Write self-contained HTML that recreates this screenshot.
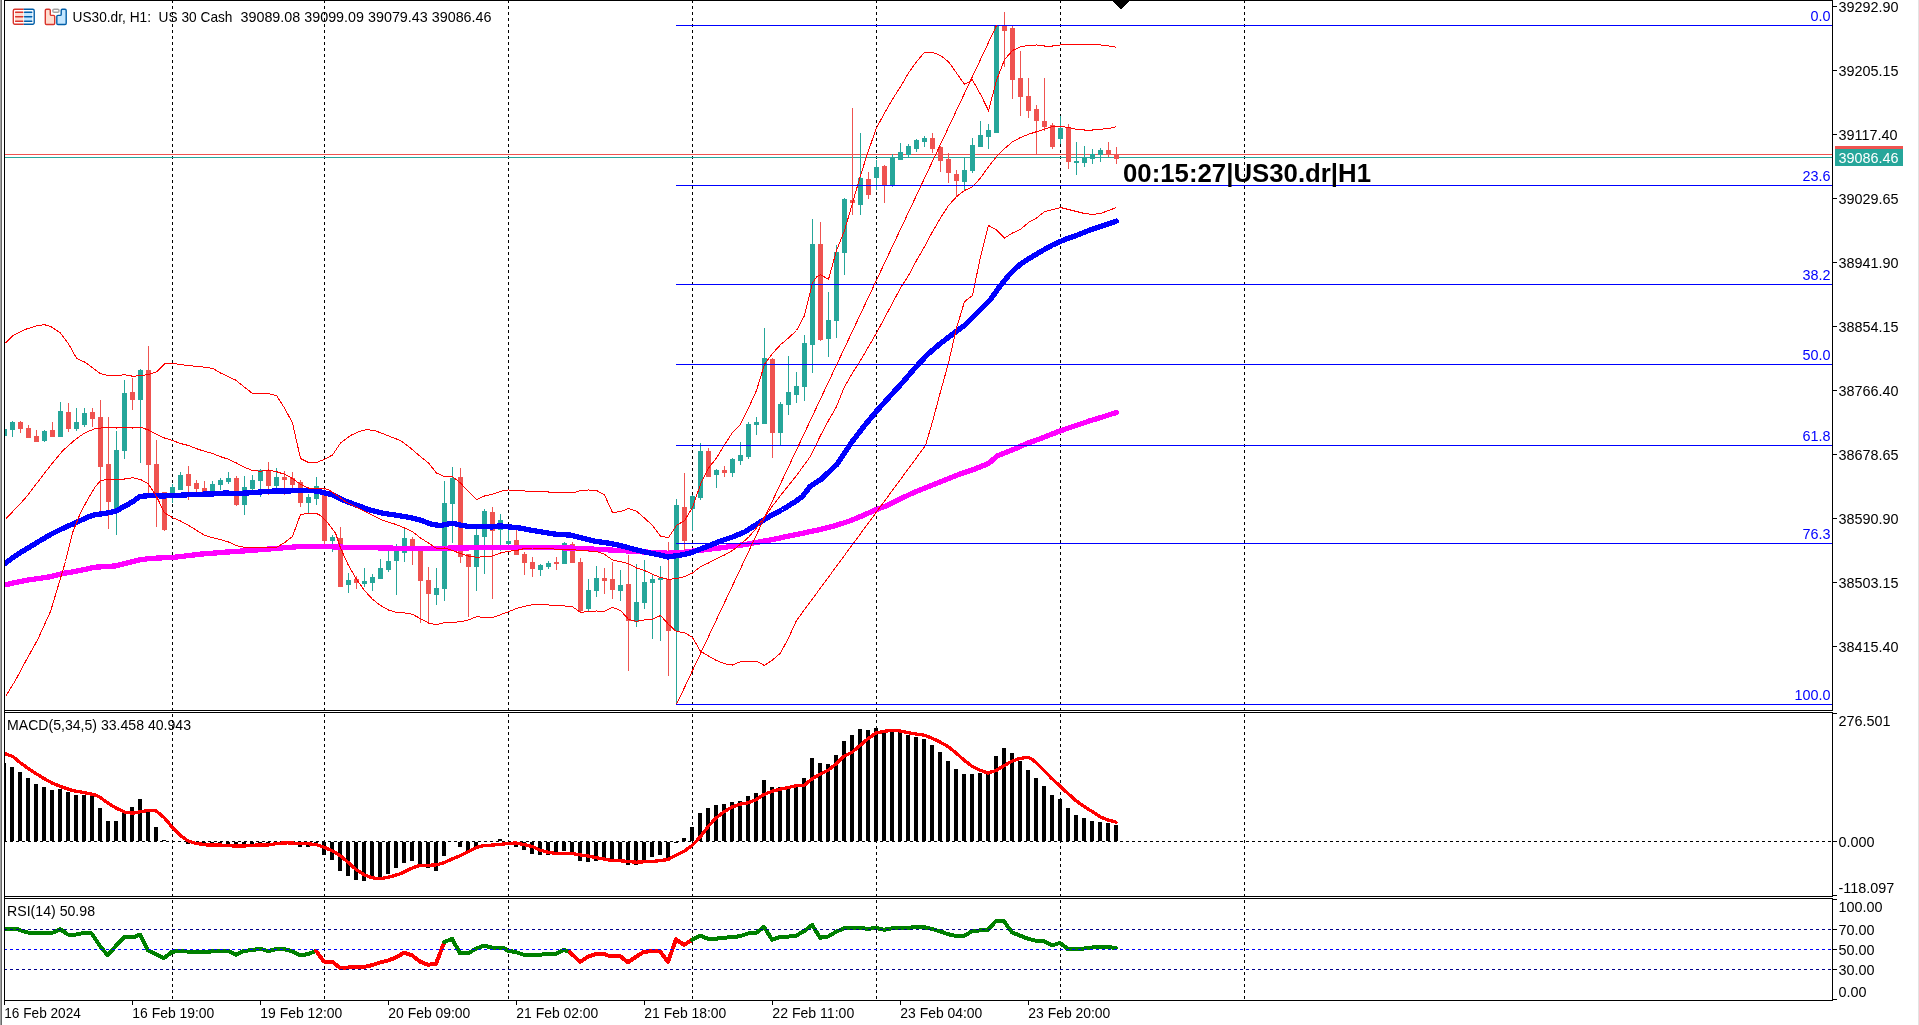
<!DOCTYPE html><html><head><meta charset="utf-8"><title>US30.dr H1</title>
<style>html,body{margin:0;padding:0;background:#fff;overflow:hidden}body{width:1919px;height:1025px;position:relative;font-family:"Liberation Sans",sans-serif}svg{position:absolute;left:0;top:0;display:block}text{font-family:"Liberation Sans",sans-serif}</style></head><body>
<svg width="1919" height="1025" viewBox="0 0 1919 1025" style="will-change:transform">
<rect x="0" y="0" width="1919" height="1025" fill="#fff"/>
<g shape-rendering="crispEdges" stroke="#000" stroke-width="1" stroke-dasharray="3 3">
<line x1="172.5" y1="0" x2="172.5" y2="710"/>
<line x1="172.5" y1="714" x2="172.5" y2="896"/>
<line x1="172.5" y1="900" x2="172.5" y2="1000"/>
<line x1="324.5" y1="0" x2="324.5" y2="710"/>
<line x1="324.5" y1="714" x2="324.5" y2="896"/>
<line x1="324.5" y1="900" x2="324.5" y2="1000"/>
<line x1="508.5" y1="0" x2="508.5" y2="710"/>
<line x1="508.5" y1="714" x2="508.5" y2="896"/>
<line x1="508.5" y1="900" x2="508.5" y2="1000"/>
<line x1="692.5" y1="0" x2="692.5" y2="710"/>
<line x1="692.5" y1="714" x2="692.5" y2="896"/>
<line x1="692.5" y1="900" x2="692.5" y2="1000"/>
<line x1="876.5" y1="0" x2="876.5" y2="710"/>
<line x1="876.5" y1="714" x2="876.5" y2="896"/>
<line x1="876.5" y1="900" x2="876.5" y2="1000"/>
<line x1="1060.5" y1="0" x2="1060.5" y2="710"/>
<line x1="1060.5" y1="714" x2="1060.5" y2="896"/>
<line x1="1060.5" y1="900" x2="1060.5" y2="1000"/>
<line x1="1244.5" y1="0" x2="1244.5" y2="710"/>
<line x1="1244.5" y1="714" x2="1244.5" y2="896"/>
<line x1="1244.5" y1="900" x2="1244.5" y2="1000"/>
</g>
<g shape-rendering="crispEdges">
<rect x="5" y="154" width="1827" height="1" fill="#ef5350"/>
<rect x="5" y="157" width="1827" height="1" fill="#26a69a"/>
</g>
<defs><clipPath id="cm"><rect x="5" y="1" width="1827" height="709"/></clipPath><clipPath id="c2"><rect x="5" y="713" width="1827" height="183"/></clipPath><clipPath id="c3"><rect x="5" y="899" width="1827" height="101"/></clipPath></defs>
<g clip-path="url(#cm)" shape-rendering="crispEdges">
<rect x="4" y="429" width="1" height="7" fill="#26a69a"/>
<rect x="2" y="429" width="5" height="7" fill="#26a69a"/>
<rect x="12" y="421" width="1" height="16" fill="#26a69a"/>
<rect x="10" y="422" width="5" height="8" fill="#26a69a"/>
<rect x="20" y="421" width="1" height="12" fill="#ef5350"/>
<rect x="18" y="422" width="5" height="7" fill="#ef5350"/>
<rect x="28" y="425" width="1" height="13" fill="#ef5350"/>
<rect x="26" y="428" width="5" height="10" fill="#ef5350"/>
<rect x="36" y="430" width="1" height="12" fill="#ef5350"/>
<rect x="34" y="436" width="5" height="6" fill="#ef5350"/>
<rect x="44" y="430" width="1" height="12" fill="#26a69a"/>
<rect x="42" y="431" width="5" height="10" fill="#26a69a"/>
<rect x="52" y="422" width="1" height="15" fill="#ef5350"/>
<rect x="50" y="430" width="5" height="7" fill="#ef5350"/>
<rect x="60" y="402" width="1" height="35" fill="#26a69a"/>
<rect x="58" y="411" width="5" height="26" fill="#26a69a"/>
<rect x="68" y="403" width="1" height="29" fill="#ef5350"/>
<rect x="66" y="412" width="5" height="17" fill="#ef5350"/>
<rect x="76" y="408" width="1" height="23" fill="#26a69a"/>
<rect x="74" y="422" width="5" height="7" fill="#26a69a"/>
<rect x="84" y="408" width="1" height="19" fill="#26a69a"/>
<rect x="82" y="413" width="5" height="12" fill="#26a69a"/>
<rect x="92" y="408" width="1" height="19" fill="#ef5350"/>
<rect x="90" y="412" width="5" height="7" fill="#ef5350"/>
<rect x="100" y="400" width="1" height="111" fill="#ef5350"/>
<rect x="98" y="417" width="5" height="50" fill="#ef5350"/>
<rect x="108" y="417" width="1" height="112" fill="#ef5350"/>
<rect x="106" y="464" width="5" height="38" fill="#ef5350"/>
<rect x="116" y="431" width="1" height="104" fill="#26a69a"/>
<rect x="114" y="450" width="5" height="59" fill="#26a69a"/>
<rect x="124" y="380" width="1" height="79" fill="#26a69a"/>
<rect x="122" y="393" width="5" height="58" fill="#26a69a"/>
<rect x="132" y="378" width="1" height="32" fill="#ef5350"/>
<rect x="130" y="392" width="5" height="8" fill="#ef5350"/>
<rect x="140" y="369" width="1" height="94" fill="#26a69a"/>
<rect x="138" y="370" width="5" height="30" fill="#26a69a"/>
<rect x="148" y="346" width="1" height="147" fill="#ef5350"/>
<rect x="146" y="370" width="5" height="95" fill="#ef5350"/>
<rect x="156" y="440" width="1" height="87" fill="#ef5350"/>
<rect x="154" y="464" width="5" height="29" fill="#ef5350"/>
<rect x="164" y="492" width="1" height="39" fill="#ef5350"/>
<rect x="162" y="492" width="5" height="38" fill="#ef5350"/>
<rect x="172" y="484" width="1" height="19" fill="#26a69a"/>
<rect x="170" y="487" width="5" height="9" fill="#26a69a"/>
<rect x="180" y="472" width="1" height="18" fill="#26a69a"/>
<rect x="178" y="475" width="5" height="15" fill="#26a69a"/>
<rect x="188" y="466" width="1" height="34" fill="#ef5350"/>
<rect x="186" y="474" width="5" height="12" fill="#ef5350"/>
<rect x="196" y="480" width="1" height="12" fill="#ef5350"/>
<rect x="194" y="483" width="5" height="6" fill="#ef5350"/>
<rect x="204" y="481" width="1" height="12" fill="#ef5350"/>
<rect x="202" y="488" width="5" height="5" fill="#ef5350"/>
<rect x="212" y="481" width="1" height="12" fill="#26a69a"/>
<rect x="210" y="484" width="5" height="9" fill="#26a69a"/>
<rect x="220" y="478" width="1" height="12" fill="#26a69a"/>
<rect x="218" y="480" width="5" height="5" fill="#26a69a"/>
<rect x="228" y="472" width="1" height="12" fill="#26a69a"/>
<rect x="226" y="478" width="5" height="4" fill="#26a69a"/>
<rect x="236" y="476" width="1" height="30" fill="#ef5350"/>
<rect x="234" y="478" width="5" height="27" fill="#ef5350"/>
<rect x="244" y="476" width="1" height="39" fill="#26a69a"/>
<rect x="242" y="487" width="5" height="18" fill="#26a69a"/>
<rect x="252" y="475" width="1" height="16" fill="#26a69a"/>
<rect x="250" y="480" width="5" height="9" fill="#26a69a"/>
<rect x="260" y="469" width="1" height="28" fill="#26a69a"/>
<rect x="258" y="470" width="5" height="11" fill="#26a69a"/>
<rect x="268" y="462" width="1" height="33" fill="#ef5350"/>
<rect x="266" y="470" width="5" height="16" fill="#ef5350"/>
<rect x="276" y="468" width="1" height="20" fill="#26a69a"/>
<rect x="274" y="477" width="5" height="9" fill="#26a69a"/>
<rect x="284" y="471" width="1" height="24" fill="#ef5350"/>
<rect x="282" y="477" width="5" height="3" fill="#ef5350"/>
<rect x="292" y="472" width="1" height="18" fill="#ef5350"/>
<rect x="290" y="478" width="5" height="7" fill="#ef5350"/>
<rect x="300" y="480" width="1" height="27" fill="#ef5350"/>
<rect x="298" y="482" width="5" height="21" fill="#ef5350"/>
<rect x="308" y="494" width="1" height="20" fill="#26a69a"/>
<rect x="306" y="497" width="5" height="6" fill="#26a69a"/>
<rect x="316" y="477" width="1" height="28" fill="#26a69a"/>
<rect x="314" y="486" width="5" height="13" fill="#26a69a"/>
<rect x="324" y="489" width="1" height="56" fill="#ef5350"/>
<rect x="322" y="492" width="5" height="49" fill="#ef5350"/>
<rect x="332" y="535" width="1" height="17" fill="#26a69a"/>
<rect x="330" y="537" width="5" height="4" fill="#26a69a"/>
<rect x="340" y="527" width="1" height="60" fill="#ef5350"/>
<rect x="338" y="538" width="5" height="49" fill="#ef5350"/>
<rect x="348" y="573" width="1" height="20" fill="#26a69a"/>
<rect x="346" y="580" width="5" height="5" fill="#26a69a"/>
<rect x="356" y="576" width="1" height="13" fill="#ef5350"/>
<rect x="354" y="579" width="5" height="4" fill="#ef5350"/>
<rect x="364" y="568" width="1" height="19" fill="#26a69a"/>
<rect x="362" y="581" width="5" height="3" fill="#26a69a"/>
<rect x="372" y="574" width="1" height="17" fill="#26a69a"/>
<rect x="370" y="577" width="5" height="6" fill="#26a69a"/>
<rect x="380" y="559" width="1" height="20" fill="#26a69a"/>
<rect x="378" y="568" width="5" height="11" fill="#26a69a"/>
<rect x="388" y="551" width="1" height="21" fill="#26a69a"/>
<rect x="386" y="561" width="5" height="9" fill="#26a69a"/>
<rect x="396" y="544" width="1" height="51" fill="#26a69a"/>
<rect x="394" y="551" width="5" height="10" fill="#26a69a"/>
<rect x="404" y="529" width="1" height="33" fill="#26a69a"/>
<rect x="402" y="538" width="5" height="15" fill="#26a69a"/>
<rect x="412" y="537" width="1" height="28" fill="#ef5350"/>
<rect x="410" y="539" width="5" height="8" fill="#ef5350"/>
<rect x="420" y="548" width="1" height="75" fill="#ef5350"/>
<rect x="418" y="550" width="5" height="31" fill="#ef5350"/>
<rect x="428" y="567" width="1" height="55" fill="#ef5350"/>
<rect x="426" y="580" width="5" height="14" fill="#ef5350"/>
<rect x="436" y="568" width="1" height="37" fill="#26a69a"/>
<rect x="434" y="588" width="5" height="7" fill="#26a69a"/>
<rect x="444" y="481" width="1" height="120" fill="#26a69a"/>
<rect x="442" y="503" width="5" height="86" fill="#26a69a"/>
<rect x="452" y="467" width="1" height="76" fill="#26a69a"/>
<rect x="450" y="478" width="5" height="26" fill="#26a69a"/>
<rect x="460" y="468" width="1" height="95" fill="#ef5350"/>
<rect x="458" y="477" width="5" height="80" fill="#ef5350"/>
<rect x="468" y="554" width="1" height="63" fill="#ef5350"/>
<rect x="466" y="554" width="5" height="13" fill="#ef5350"/>
<rect x="476" y="529" width="1" height="62" fill="#26a69a"/>
<rect x="474" y="535" width="5" height="32" fill="#26a69a"/>
<rect x="484" y="509" width="1" height="65" fill="#26a69a"/>
<rect x="482" y="511" width="5" height="26" fill="#26a69a"/>
<rect x="492" y="507" width="1" height="92" fill="#ef5350"/>
<rect x="490" y="512" width="5" height="19" fill="#ef5350"/>
<rect x="500" y="514" width="1" height="37" fill="#26a69a"/>
<rect x="498" y="520" width="5" height="10" fill="#26a69a"/>
<rect x="508" y="528" width="1" height="18" fill="#26a69a"/>
<rect x="506" y="541" width="5" height="3" fill="#26a69a"/>
<rect x="516" y="530" width="1" height="25" fill="#ef5350"/>
<rect x="514" y="540" width="5" height="15" fill="#ef5350"/>
<rect x="524" y="552" width="1" height="23" fill="#ef5350"/>
<rect x="522" y="554" width="5" height="9" fill="#ef5350"/>
<rect x="532" y="557" width="1" height="20" fill="#ef5350"/>
<rect x="530" y="562" width="5" height="7" fill="#ef5350"/>
<rect x="540" y="564" width="1" height="12" fill="#26a69a"/>
<rect x="538" y="565" width="5" height="5" fill="#26a69a"/>
<rect x="548" y="561" width="1" height="8" fill="#26a69a"/>
<rect x="546" y="563" width="5" height="4" fill="#26a69a"/>
<rect x="556" y="557" width="1" height="13" fill="#ef5350"/>
<rect x="554" y="562" width="5" height="2" fill="#ef5350"/>
<rect x="564" y="542" width="1" height="22" fill="#26a69a"/>
<rect x="562" y="543" width="5" height="21" fill="#26a69a"/>
<rect x="572" y="542" width="1" height="21" fill="#ef5350"/>
<rect x="570" y="544" width="5" height="19" fill="#ef5350"/>
<rect x="580" y="558" width="1" height="55" fill="#ef5350"/>
<rect x="578" y="562" width="5" height="49" fill="#ef5350"/>
<rect x="588" y="579" width="1" height="32" fill="#26a69a"/>
<rect x="586" y="590" width="5" height="19" fill="#26a69a"/>
<rect x="596" y="566" width="1" height="31" fill="#26a69a"/>
<rect x="594" y="578" width="5" height="13" fill="#26a69a"/>
<rect x="604" y="568" width="1" height="26" fill="#ef5350"/>
<rect x="602" y="578" width="5" height="3" fill="#ef5350"/>
<rect x="612" y="562" width="1" height="37" fill="#ef5350"/>
<rect x="610" y="579" width="5" height="11" fill="#ef5350"/>
<rect x="620" y="570" width="1" height="31" fill="#26a69a"/>
<rect x="618" y="585" width="5" height="6" fill="#26a69a"/>
<rect x="628" y="555" width="1" height="116" fill="#ef5350"/>
<rect x="626" y="584" width="5" height="37" fill="#ef5350"/>
<rect x="636" y="564" width="1" height="63" fill="#26a69a"/>
<rect x="634" y="602" width="5" height="20" fill="#26a69a"/>
<rect x="644" y="560" width="1" height="49" fill="#26a69a"/>
<rect x="642" y="582" width="5" height="21" fill="#26a69a"/>
<rect x="652" y="575" width="1" height="64" fill="#26a69a"/>
<rect x="650" y="579" width="5" height="4" fill="#26a69a"/>
<rect x="660" y="566" width="1" height="75" fill="#26a69a"/>
<rect x="658" y="578" width="5" height="2" fill="#26a69a"/>
<rect x="668" y="542" width="1" height="134" fill="#ef5350"/>
<rect x="666" y="579" width="5" height="52" fill="#ef5350"/>
<rect x="676" y="499" width="1" height="206" fill="#26a69a"/>
<rect x="674" y="505" width="5" height="126" fill="#26a69a"/>
<rect x="684" y="473" width="1" height="78" fill="#ef5350"/>
<rect x="682" y="507" width="5" height="34" fill="#ef5350"/>
<rect x="692" y="495" width="1" height="36" fill="#26a69a"/>
<rect x="690" y="496" width="5" height="13" fill="#26a69a"/>
<rect x="700" y="443" width="1" height="57" fill="#26a69a"/>
<rect x="698" y="451" width="5" height="47" fill="#26a69a"/>
<rect x="708" y="448" width="1" height="29" fill="#ef5350"/>
<rect x="706" y="451" width="5" height="26" fill="#ef5350"/>
<rect x="716" y="469" width="1" height="19" fill="#26a69a"/>
<rect x="714" y="470" width="5" height="5" fill="#26a69a"/>
<rect x="724" y="466" width="1" height="11" fill="#ef5350"/>
<rect x="722" y="470" width="5" height="3" fill="#ef5350"/>
<rect x="732" y="458" width="1" height="19" fill="#26a69a"/>
<rect x="730" y="459" width="5" height="14" fill="#26a69a"/>
<rect x="740" y="442" width="1" height="23" fill="#26a69a"/>
<rect x="738" y="455" width="5" height="6" fill="#26a69a"/>
<rect x="748" y="422" width="1" height="37" fill="#26a69a"/>
<rect x="746" y="424" width="5" height="33" fill="#26a69a"/>
<rect x="756" y="417" width="1" height="18" fill="#26a69a"/>
<rect x="754" y="422" width="5" height="3" fill="#26a69a"/>
<rect x="764" y="328" width="1" height="96" fill="#26a69a"/>
<rect x="762" y="358" width="5" height="66" fill="#26a69a"/>
<rect x="772" y="358" width="1" height="100" fill="#ef5350"/>
<rect x="770" y="359" width="5" height="74" fill="#ef5350"/>
<rect x="780" y="402" width="1" height="43" fill="#26a69a"/>
<rect x="778" y="404" width="5" height="29" fill="#26a69a"/>
<rect x="788" y="356" width="1" height="59" fill="#26a69a"/>
<rect x="786" y="392" width="5" height="13" fill="#26a69a"/>
<rect x="796" y="372" width="1" height="31" fill="#26a69a"/>
<rect x="794" y="386" width="5" height="9" fill="#26a69a"/>
<rect x="804" y="335" width="1" height="66" fill="#26a69a"/>
<rect x="802" y="343" width="5" height="44" fill="#26a69a"/>
<rect x="812" y="219" width="1" height="154" fill="#26a69a"/>
<rect x="810" y="244" width="5" height="101" fill="#26a69a"/>
<rect x="820" y="222" width="1" height="119" fill="#ef5350"/>
<rect x="818" y="244" width="5" height="96" fill="#ef5350"/>
<rect x="828" y="292" width="1" height="65" fill="#26a69a"/>
<rect x="826" y="320" width="5" height="19" fill="#26a69a"/>
<rect x="836" y="245" width="1" height="93" fill="#26a69a"/>
<rect x="834" y="252" width="5" height="69" fill="#26a69a"/>
<rect x="844" y="198" width="1" height="77" fill="#26a69a"/>
<rect x="842" y="199" width="5" height="54" fill="#26a69a"/>
<rect x="852" y="108" width="1" height="107" fill="#ef5350"/>
<rect x="850" y="200" width="5" height="3" fill="#ef5350"/>
<rect x="860" y="133" width="1" height="82" fill="#26a69a"/>
<rect x="858" y="178" width="5" height="27" fill="#26a69a"/>
<rect x="868" y="172" width="1" height="27" fill="#ef5350"/>
<rect x="866" y="179" width="5" height="16" fill="#ef5350"/>
<rect x="876" y="160" width="1" height="30" fill="#26a69a"/>
<rect x="874" y="167" width="5" height="11" fill="#26a69a"/>
<rect x="884" y="165" width="1" height="38" fill="#ef5350"/>
<rect x="882" y="166" width="5" height="19" fill="#ef5350"/>
<rect x="892" y="154" width="1" height="33" fill="#26a69a"/>
<rect x="890" y="157" width="5" height="28" fill="#26a69a"/>
<rect x="900" y="143" width="1" height="17" fill="#26a69a"/>
<rect x="898" y="152" width="5" height="8" fill="#26a69a"/>
<rect x="908" y="144" width="1" height="13" fill="#26a69a"/>
<rect x="906" y="146" width="5" height="9" fill="#26a69a"/>
<rect x="916" y="139" width="1" height="13" fill="#26a69a"/>
<rect x="914" y="140" width="5" height="9" fill="#26a69a"/>
<rect x="924" y="136" width="1" height="11" fill="#26a69a"/>
<rect x="922" y="138" width="5" height="4" fill="#26a69a"/>
<rect x="932" y="133" width="1" height="20" fill="#ef5350"/>
<rect x="930" y="138" width="5" height="11" fill="#ef5350"/>
<rect x="940" y="146" width="1" height="26" fill="#ef5350"/>
<rect x="938" y="147" width="5" height="14" fill="#ef5350"/>
<rect x="948" y="153" width="1" height="30" fill="#ef5350"/>
<rect x="946" y="159" width="5" height="14" fill="#ef5350"/>
<rect x="956" y="170" width="1" height="27" fill="#ef5350"/>
<rect x="954" y="174" width="5" height="7" fill="#ef5350"/>
<rect x="964" y="158" width="1" height="33" fill="#26a69a"/>
<rect x="962" y="170" width="5" height="12" fill="#26a69a"/>
<rect x="972" y="138" width="1" height="35" fill="#26a69a"/>
<rect x="970" y="145" width="5" height="26" fill="#26a69a"/>
<rect x="980" y="121" width="1" height="26" fill="#26a69a"/>
<rect x="978" y="135" width="5" height="12" fill="#26a69a"/>
<rect x="988" y="124" width="1" height="25" fill="#26a69a"/>
<rect x="986" y="130" width="5" height="7" fill="#26a69a"/>
<rect x="996" y="25" width="1" height="108" fill="#26a69a"/>
<rect x="994" y="26" width="5" height="107" fill="#26a69a"/>
<rect x="1004" y="12" width="1" height="55" fill="#ef5350"/>
<rect x="1002" y="26" width="5" height="5" fill="#ef5350"/>
<rect x="1012" y="25" width="1" height="74" fill="#ef5350"/>
<rect x="1010" y="28" width="5" height="52" fill="#ef5350"/>
<rect x="1020" y="51" width="1" height="65" fill="#ef5350"/>
<rect x="1018" y="78" width="5" height="19" fill="#ef5350"/>
<rect x="1028" y="78" width="1" height="40" fill="#ef5350"/>
<rect x="1026" y="96" width="5" height="15" fill="#ef5350"/>
<rect x="1036" y="105" width="1" height="50" fill="#ef5350"/>
<rect x="1034" y="109" width="5" height="12" fill="#ef5350"/>
<rect x="1044" y="78" width="1" height="53" fill="#ef5350"/>
<rect x="1042" y="121" width="5" height="6" fill="#ef5350"/>
<rect x="1052" y="123" width="1" height="26" fill="#ef5350"/>
<rect x="1050" y="125" width="5" height="22" fill="#ef5350"/>
<rect x="1060" y="116" width="1" height="28" fill="#26a69a"/>
<rect x="1058" y="128" width="5" height="11" fill="#26a69a"/>
<rect x="1068" y="124" width="1" height="45" fill="#ef5350"/>
<rect x="1066" y="127" width="5" height="35" fill="#ef5350"/>
<rect x="1076" y="142" width="1" height="33" fill="#26a69a"/>
<rect x="1074" y="161" width="5" height="2" fill="#26a69a"/>
<rect x="1084" y="146" width="1" height="21" fill="#26a69a"/>
<rect x="1082" y="158" width="5" height="5" fill="#26a69a"/>
<rect x="1092" y="149" width="1" height="15" fill="#26a69a"/>
<rect x="1090" y="154" width="5" height="5" fill="#26a69a"/>
<rect x="1100" y="148" width="1" height="14" fill="#26a69a"/>
<rect x="1098" y="150" width="5" height="5" fill="#26a69a"/>
<rect x="1108" y="142" width="1" height="15" fill="#ef5350"/>
<rect x="1106" y="150" width="5" height="5" fill="#ef5350"/>
<rect x="1116" y="147" width="1" height="17" fill="#ef5350"/>
<rect x="1114" y="154" width="5" height="5" fill="#ef5350"/>
</g>
<g clip-path="url(#cm)" fill="none" stroke-linejoin="round" stroke-linecap="round" shape-rendering="crispEdges">
<polyline stroke="#ff00ff" stroke-width="5.3" points="5.0,584.8 25.0,580.5 50.0,576.8 62.5,573.5 75.0,571.5 95.0,567.2 115.0,566.0 125.0,563.5 140.0,559.8 150.0,558.5 175.0,557.2 200.0,554.2 225.0,552.2 250.0,550.5 275.0,548.5 300.0,546.5 320.0,546.5 345.0,547.2 395.0,548.2 445.0,548.2 495.0,547.5 545.0,547.5 570.0,548.0 595.0,549.2 620.0,550.5 645.0,552.0 668.0,553.2 682.5,552.5 695.0,550.8 720.0,548.0 745.0,544.5 770.0,540.0 818.1,530.0 833.8,526.1 849.4,521.1 861.9,515.9 875.9,509.7 888.4,505.0 896.2,501.1 911.9,493.3 927.5,487.0 943.1,480.8 958.8,474.5 974.4,469.1 988.4,463.6 997.5,455.8 1015.0,448.8 1027.5,443.2 1040.0,438.8 1052.5,433.8 1065.0,429.2 1077.5,425.0 1090.0,420.8 1102.5,417.0 1116.2,412.5"/>
<polyline stroke="#0000ff" stroke-width="5.3" points="5.0,563.5 15.0,556.0 25.0,549.8 37.5,542.2 50.0,534.8 62.5,528.5 75.0,523.0 87.5,517.2 95.0,514.8 107.5,513.0 116.2,511.0 125.0,506.0 132.5,501.8 140.0,496.5 150.0,495.5 162.5,496.0 175.0,495.5 187.5,494.8 200.0,494.2 212.5,494.0 225.0,493.0 237.5,493.5 250.0,492.8 262.5,491.8 275.0,491.0 287.5,491.0 300.0,490.5 312.5,490.5 320.0,491.8 332.5,495.0 345.0,500.8 357.5,505.5 370.0,510.0 382.5,513.2 395.0,515.0 407.5,517.0 420.0,520.0 432.5,524.5 440.0,525.5 452.0,523.2 460.0,525.0 470.0,526.8 484.0,526.2 492.0,527.0 500.0,525.8 508.0,526.8 520.0,528.0 532.5,530.5 545.0,532.5 557.5,534.5 570.0,535.0 582.5,538.2 595.0,541.2 607.5,543.0 620.0,545.5 632.5,548.8 645.0,552.0 657.5,554.5 668.0,557.0 676.0,555.8 684.0,554.5 692.0,552.5 700.0,549.2 708.0,546.2 720.0,541.2 732.5,537.0 745.0,531.8 757.5,523.8 770.0,516.2 782.5,509.5 795.0,501.8 802.5,496.4 810.3,486.2 821.2,479.2 836.9,464.4 842.5,455.8 852.5,441.2 865.0,425.0 877.5,410.0 890.0,396.2 902.5,382.5 915.0,368.0 927.5,354.5 940.0,343.8 952.5,334.2 965.0,325.0 977.5,312.5 990.0,300.0 1000.0,286.2 1010.0,273.8 1020.0,264.5 1030.0,258.0 1040.0,252.0 1052.5,245.0 1065.0,239.5 1077.5,235.0 1090.0,230.0 1102.5,225.8 1116.2,221.2"/>
</g>
<g clip-path="url(#cm)" fill="none" stroke="#ff0000" stroke-width="1" shape-rendering="crispEdges">
<polyline points="5.5,343.0 13.0,335.5 25.5,329.3 38.0,325.5 44.3,324.7 50.5,326.3 60.5,333.0 68.0,343.0 76.7,358.5 85.5,362.5 100.5,373.7 108.0,375.5 116.7,375.5 124.7,374.7 133.0,376.3 140.5,375.5 148.5,374.7 156.7,371.7 164.7,363.7 173.0,363.5 188.0,365.5 200.5,366.7 213.0,368.5 220.5,373.0 235.5,380.0 252.5,393.5 268.5,393.7 276.5,395.5 284.5,408.0 292.5,423.0 300.5,458.5 308.5,462.5 316.5,462.5 324.5,459.3 332.5,455.0 340.5,443.0 350.5,435.5 358.5,431.7 366.5,429.7 374.5,430.5 382.5,433.5 390.5,436.7 400.5,440.5 410.5,448.0 420.5,456.7 428.5,463.0 436.5,473.0 444.5,476.7 452.5,476.7 460.5,483.0 468.5,491.7 476.5,499.7 484.5,496.0 492.5,494.3 500.5,491.3 508.5,490.0 516.5,490.5 524.5,491.0 532.5,492.0 540.5,491.7 548.5,492.0 556.5,492.0 564.5,492.3 572.5,493.0 580.5,490.5 588.5,490.0 596.5,490.5 604.5,495.0 612.5,512.5 620.5,511.7 628.5,508.5 636.5,511.3 644.5,518.0 652.5,525.5 660.5,536.3 668.5,537.5 676.5,525.5 684.5,520.5 692.5,507.5 700.5,484.3 708.5,468.0 716.5,458.0 724.5,444.9 732.5,432.5 740.5,424.3 748.5,408.0 756.5,390.5 764.5,364.3 772.5,353.5 780.5,344.7 788.5,338.0 796.5,330.5 804.5,315.5 812.5,283.0 816.7,276.7 820.5,274.7 828.5,279.3 836.5,250.5 844.5,230.5 852.5,203.0 860.5,175.5 868.5,150.5 876.5,128.0 884.5,113.0 892.5,99.3 900.5,86.7 908.5,73.0 916.5,61.7 924.5,52.3 932.5,52.3 940.5,55.5 948.5,61.7 956.5,73.0 964.5,84.3 972.5,80.0 980.5,94.3 988.5,110.5 996.5,80.5 1004.5,59.7 1012.5,50.5 1020.5,46.7 1028.5,45.5 1036.5,45.0 1044.5,46.0 1052.5,46.0 1060.5,45.0 1068.5,44.7 1076.5,44.7 1084.5,44.7 1092.5,44.7 1100.5,45.0 1108.5,46.0 1116.5,47.3"/>
<polyline points="5.5,519.3 25.5,498.0 50.5,465.5 63.0,450.5 75.5,439.3 85.5,432.5 95.5,428.5 108.5,427.3 116.5,428.0 124.5,427.3 132.5,428.0 140.5,427.3 148.5,430.0 156.5,434.3 164.5,438.0 172.5,440.5 180.5,443.5 188.5,445.5 196.5,448.7 204.5,451.3 212.5,453.5 220.5,456.7 228.5,459.3 236.5,463.0 244.5,467.3 252.5,470.5 260.5,471.3 268.5,470.0 276.5,471.7 284.5,474.3 292.5,478.5 300.5,484.3 308.5,488.0 316.5,488.0 320.5,488.0 328.0,489.3 335.5,494.3 345.5,501.7 358.0,508.0 370.5,514.3 383.0,520.5 395.5,524.3 404.5,528.0 412.5,531.7 420.5,538.0 428.5,543.0 436.5,548.5 444.5,548.0 452.5,550.5 460.5,553.5 468.5,556.0 476.5,557.3 484.5,556.7 492.5,556.0 500.5,553.0 508.5,551.3 516.5,550.5 524.5,548.5 532.5,548.0 540.5,548.0 548.5,548.5 556.5,549.3 564.5,549.3 572.5,549.7 580.5,550.5 588.5,551.0 596.5,551.3 604.5,554.3 612.5,560.0 620.5,561.7 628.5,563.7 636.5,568.0 644.5,570.5 652.5,574.3 660.5,577.5 668.5,579.3 676.5,578.7 684.5,576.7 692.5,573.0 700.5,566.7 708.5,563.0 716.5,558.7 724.5,555.0 732.5,550.5 740.5,544.3 748.5,537.3 756.5,528.0 764.5,516.7 772.5,506.0 780.5,495.5 788.5,485.5 796.5,475.5 810.5,456.3 820.5,435.5 828.5,420.5 836.5,406.7 844.5,386.7 852.5,373.0 860.5,360.5 868.5,346.7 876.5,333.0 884.5,318.0 892.5,303.0 900.5,288.0 908.5,275.5 916.5,260.5 924.5,246.7 932.5,231.7 940.5,218.0 948.5,205.5 956.5,196.7 964.5,190.5 972.5,186.7 980.5,178.0 988.5,166.7 996.5,156.7 1004.5,148.7 1012.5,141.7 1020.5,137.5 1028.5,134.3 1036.5,131.7 1044.5,129.3 1052.5,126.3 1060.5,126.3 1068.5,127.5 1076.5,129.3 1084.5,130.0 1092.5,130.0 1100.5,129.3 1108.5,128.5 1116.5,126.7"/>
<polyline points="5.5,696.5 15.5,680.3 25.5,661.5 38.0,639.0 50.5,611.5 58.0,586.5 65.5,561.5 73.0,531.5 80.5,512.7 88.0,499.0 95.5,486.5 100.5,480.7 108.5,479.0 116.5,479.0 124.5,479.0 132.5,477.7 140.5,479.5 148.5,484.0 156.5,496.5 164.5,512.7 172.5,517.7 180.5,521.0 188.5,525.3 196.5,530.3 204.5,535.3 212.5,537.7 220.5,539.7 228.5,542.0 236.5,545.7 244.5,547.3 252.5,547.7 260.5,547.7 268.5,547.7 276.5,547.3 284.5,542.7 292.5,536.5 300.5,514.5 308.5,513.5 316.5,513.5 320.5,515.5 328.0,523.0 335.5,533.0 340.5,548.0 348.5,565.5 356.5,579.3 364.5,590.5 372.5,599.3 380.5,605.5 388.5,610.0 396.5,612.5 404.5,613.0 412.5,614.3 420.5,618.7 428.5,623.0 436.5,624.7 444.5,622.5 452.5,622.5 460.5,621.7 468.5,620.0 476.5,616.7 484.5,617.5 492.5,617.5 500.5,614.7 508.5,611.7 516.5,608.5 524.5,606.3 532.5,604.7 540.5,604.7 548.5,605.0 556.5,605.5 564.5,606.0 572.5,606.7 580.5,612.5 588.5,611.3 596.5,611.0 604.5,611.3 612.5,607.3 620.5,610.5 628.5,619.3 636.5,621.3 644.5,620.0 652.5,619.3 660.5,615.5 668.5,624.3 676.5,631.7 684.5,632.5 692.5,637.5 700.5,651.3 708.5,656.0 716.5,660.5 724.5,663.7 732.5,665.0 740.5,661.7 748.5,661.7 756.5,661.3 764.5,665.5 772.5,660.0 780.5,653.0 788.5,638.0 796.5,620.5 925.5,445.5 932.5,421.7 940.5,391.7 948.5,363.0 956.5,328.0 964.5,301.7 972.5,295.5 980.5,256.7 988.5,225.5 996.5,230.0 1004.5,238.0 1012.5,233.0 1020.5,229.3 1028.5,222.5 1036.5,218.0 1044.5,211.7 1052.5,209.7 1060.5,207.5 1068.5,209.5 1076.5,211.5 1084.5,213.5 1092.5,214.5 1100.5,213.5 1108.5,210.5 1116.5,207.5"/>
</g>
<g shape-rendering="crispEdges" fill="#0000ff">
<rect x="676" y="25" width="1156" height="1"/>
<rect x="676" y="185" width="1156" height="1"/>
<rect x="676" y="284" width="1156" height="1"/>
<rect x="676" y="364" width="1156" height="1"/>
<rect x="676" y="445" width="1156" height="1"/>
<rect x="676" y="543" width="1156" height="1"/>
<rect x="676" y="704" width="1156" height="1"/>
</g>
<g fill="#0000ff" font-size="14.4" text-anchor="end">
<text x="1830.5" y="21">0.0</text>
<text x="1830.5" y="181">23.6</text>
<text x="1830.5" y="280">38.2</text>
<text x="1830.5" y="360">50.0</text>
<text x="1830.5" y="441">61.8</text>
<text x="1830.5" y="539">76.3</text>
<text x="1830.5" y="700">100.0</text>
</g>
<g clip-path="url(#cm)" shape-rendering="crispEdges"><line x1="676.5" y1="704.5" x2="996.5" y2="25.5" stroke="#ff0000" stroke-width="1"/></g>
<g shape-rendering="crispEdges">
<line x1="5" y1="841.5" x2="1832" y2="841.5" stroke="#000" stroke-width="1" stroke-dasharray="3 3" stroke-dashoffset="1"/>
</g>
<g clip-path="url(#c2)" shape-rendering="crispEdges" fill="#000">
<rect x="2" y="763" width="4" height="78"/>
<rect x="10" y="767" width="4" height="74"/>
<rect x="18" y="772" width="4" height="69"/>
<rect x="26" y="778" width="4" height="63"/>
<rect x="34" y="784" width="4" height="57"/>
<rect x="42" y="787" width="4" height="54"/>
<rect x="50" y="790" width="4" height="51"/>
<rect x="58" y="789" width="4" height="52"/>
<rect x="66" y="792" width="4" height="49"/>
<rect x="74" y="795" width="4" height="46"/>
<rect x="82" y="795" width="4" height="46"/>
<rect x="90" y="796" width="4" height="45"/>
<rect x="98" y="808" width="4" height="33"/>
<rect x="106" y="821" width="4" height="20"/>
<rect x="114" y="821" width="4" height="20"/>
<rect x="122" y="813" width="4" height="28"/>
<rect x="130" y="807" width="4" height="34"/>
<rect x="138" y="799" width="4" height="42"/>
<rect x="146" y="810" width="4" height="31"/>
<rect x="154" y="827" width="4" height="14"/>
<rect x="162" y="840" width="4" height="1"/>
<rect x="186" y="842" width="4" height="2"/>
<rect x="194" y="842" width="4" height="3"/>
<rect x="202" y="842" width="4" height="3"/>
<rect x="210" y="842" width="4" height="3"/>
<rect x="218" y="842" width="4" height="3"/>
<rect x="226" y="842" width="4" height="3"/>
<rect x="234" y="842" width="4" height="5"/>
<rect x="242" y="842" width="4" height="5"/>
<rect x="250" y="842" width="4" height="3"/>
<rect x="258" y="842" width="4" height="1"/>
<rect x="266" y="842" width="4" height="1"/>
<rect x="290" y="842" width="4" height="1"/>
<rect x="298" y="842" width="4" height="5"/>
<rect x="306" y="842" width="4" height="5"/>
<rect x="314" y="842" width="4" height="3"/>
<rect x="322" y="842" width="4" height="13"/>
<rect x="330" y="842" width="4" height="18"/>
<rect x="338" y="842" width="4" height="29"/>
<rect x="346" y="842" width="4" height="34"/>
<rect x="354" y="842" width="4" height="38"/>
<rect x="362" y="842" width="4" height="39"/>
<rect x="370" y="842" width="4" height="37"/>
<rect x="378" y="842" width="4" height="35"/>
<rect x="386" y="842" width="4" height="32"/>
<rect x="394" y="842" width="4" height="26"/>
<rect x="402" y="842" width="4" height="21"/>
<rect x="410" y="842" width="4" height="19"/>
<rect x="418" y="842" width="4" height="23"/>
<rect x="426" y="842" width="4" height="26"/>
<rect x="434" y="842" width="4" height="29"/>
<rect x="442" y="842" width="4" height="14"/>
<rect x="458" y="842" width="4" height="5"/>
<rect x="466" y="842" width="4" height="9"/>
<rect x="474" y="842" width="4" height="6"/>
<rect x="498" y="839" width="4" height="2"/>
<rect x="514" y="842" width="4" height="5"/>
<rect x="522" y="842" width="4" height="8"/>
<rect x="530" y="842" width="4" height="12"/>
<rect x="538" y="842" width="4" height="13"/>
<rect x="546" y="842" width="4" height="13"/>
<rect x="554" y="842" width="4" height="11"/>
<rect x="562" y="842" width="4" height="9"/>
<rect x="570" y="842" width="4" height="10"/>
<rect x="578" y="842" width="4" height="19"/>
<rect x="586" y="842" width="4" height="20"/>
<rect x="594" y="842" width="4" height="19"/>
<rect x="602" y="842" width="4" height="18"/>
<rect x="610" y="842" width="4" height="20"/>
<rect x="618" y="842" width="4" height="20"/>
<rect x="626" y="842" width="4" height="23"/>
<rect x="634" y="842" width="4" height="23"/>
<rect x="642" y="842" width="4" height="20"/>
<rect x="650" y="842" width="4" height="15"/>
<rect x="658" y="842" width="4" height="13"/>
<rect x="666" y="842" width="4" height="19"/>
<rect x="674" y="842" width="4" height="1"/>
<rect x="682" y="838" width="4" height="3"/>
<rect x="690" y="827" width="4" height="14"/>
<rect x="698" y="813" width="4" height="28"/>
<rect x="706" y="808" width="4" height="33"/>
<rect x="714" y="805" width="4" height="36"/>
<rect x="722" y="804" width="4" height="37"/>
<rect x="730" y="802" width="4" height="39"/>
<rect x="738" y="801" width="4" height="40"/>
<rect x="746" y="796" width="4" height="45"/>
<rect x="754" y="793" width="4" height="48"/>
<rect x="762" y="780" width="4" height="61"/>
<rect x="770" y="787" width="4" height="54"/>
<rect x="778" y="787" width="4" height="54"/>
<rect x="786" y="788" width="4" height="53"/>
<rect x="794" y="786" width="4" height="55"/>
<rect x="802" y="778" width="4" height="63"/>
<rect x="810" y="758" width="4" height="83"/>
<rect x="818" y="763" width="4" height="78"/>
<rect x="826" y="764" width="4" height="77"/>
<rect x="834" y="755" width="4" height="86"/>
<rect x="842" y="741" width="4" height="100"/>
<rect x="850" y="735" width="4" height="106"/>
<rect x="858" y="729" width="4" height="112"/>
<rect x="866" y="730" width="4" height="111"/>
<rect x="874" y="728" width="4" height="113"/>
<rect x="882" y="730" width="4" height="111"/>
<rect x="890" y="730" width="4" height="111"/>
<rect x="898" y="732" width="4" height="109"/>
<rect x="906" y="735" width="4" height="106"/>
<rect x="914" y="737" width="4" height="104"/>
<rect x="922" y="739" width="4" height="102"/>
<rect x="930" y="745" width="4" height="96"/>
<rect x="938" y="752" width="4" height="89"/>
<rect x="946" y="761" width="4" height="80"/>
<rect x="954" y="769" width="4" height="72"/>
<rect x="962" y="774" width="4" height="67"/>
<rect x="970" y="774" width="4" height="67"/>
<rect x="978" y="773" width="4" height="68"/>
<rect x="986" y="774" width="4" height="67"/>
<rect x="994" y="756" width="4" height="85"/>
<rect x="1002" y="748" width="4" height="93"/>
<rect x="1010" y="753" width="4" height="88"/>
<rect x="1018" y="761" width="4" height="80"/>
<rect x="1026" y="770" width="4" height="71"/>
<rect x="1034" y="778" width="4" height="63"/>
<rect x="1042" y="786" width="4" height="55"/>
<rect x="1050" y="795" width="4" height="46"/>
<rect x="1058" y="799" width="4" height="42"/>
<rect x="1066" y="808" width="4" height="33"/>
<rect x="1074" y="815" width="4" height="26"/>
<rect x="1082" y="818" width="4" height="23"/>
<rect x="1090" y="821" width="4" height="20"/>
<rect x="1098" y="822" width="4" height="19"/>
<rect x="1106" y="823" width="4" height="18"/>
<rect x="1114" y="825" width="4" height="16"/>
</g>
<g clip-path="url(#c2)" fill="none" stroke="#ff0000" stroke-width="3.3" stroke-linejoin="round" stroke-linecap="round" shape-rendering="crispEdges">
<polyline points="5.2,753.8 12.5,756.3 20.8,763.2 31.2,770.5 41.7,777.2 52.1,783.0 62.5,787.2 72.9,790.7 83.3,792.4 93.8,794.5 100.0,797.2 108.3,803.4 116.7,808.4 125.0,812.2 133.3,813.2 141.7,811.5 150.0,810.1 156.2,811.1 164.0,817.4 172.1,827.2 180.0,835.1 187.9,840.9 196.0,843.4 208.3,845.1 220.8,845.1 236.0,846.1 245.8,845.9 256.2,845.1 268.8,844.9 277.1,843.4 287.5,842.8 297.9,843.4 308.3,843.8 316.0,844.5 324.0,847.2 332.1,850.7 340.0,855.5 347.9,862.2 356.0,869.5 364.0,874.7 372.1,877.8 380.0,878.8 390.4,876.8 400.8,873.6 411.2,868.4 420.0,865.3 427.9,865.3 436.0,864.9 444.0,862.8 452.1,859.0 460.0,855.9 467.9,851.8 476.0,847.6 484.0,845.5 492.1,845.1 500.0,844.5 507.9,843.4 516.0,843.0 524.0,844.5 532.1,846.5 540.0,850.1 547.9,852.2 556.0,853.4 564.0,853.4 572.1,853.4 580.0,854.9 587.9,855.9 596.0,857.6 604.0,859.0 612.1,860.7 620.0,860.7 627.9,861.5 636.0,862.2 644.0,861.8 652.1,861.5 660.0,860.7 667.9,859.5 676.0,855.3 684.0,851.3 692.1,845.5 700.0,837.2 707.9,826.8 716.0,818.0 724.0,811.8 732.1,807.0 740.0,804.2 747.9,802.8 756.0,799.7 764.0,794.5 772.1,791.3 780.0,789.2 787.9,787.6 796.0,785.7 804.0,785.5 812.1,778.8 820.0,774.2 827.9,770.5 836.0,763.8 844.0,756.3 852.1,752.2 860.0,745.5 867.9,738.8 876.0,733.0 884.0,731.3 892.1,730.3 900.0,730.9 907.9,732.6 916.0,734.0 924.0,735.1 932.1,738.2 940.0,742.0 947.9,746.5 956.0,752.8 964.0,760.1 972.1,766.3 980.0,770.1 987.9,773.0 996.0,770.5 1004.0,765.7 1012.1,761.1 1020.0,758.4 1027.9,757.4 1032.9,759.7 1036.0,762.6 1044.0,770.5 1052.1,778.8 1060.0,786.1 1067.9,793.4 1076.0,800.7 1084.0,806.5 1092.1,811.5 1100.0,816.8 1107.9,819.9 1116.0,822.2"/>
</g>
<g clip-path="url(#c3)" fill="none" stroke-width="4" stroke-linejoin="round" stroke-linecap="round" shape-rendering="crispEdges">
<polyline stroke="#008000" points="4.2,928.9 16.7,928.9 20.8,930.4 29.2,932.9 52.1,932.9 60.4,929.3 67.7,934.5 76.0,934.5 83.3,933.1 91.7,933.5 100.0,946.0 107.7,955.4 116.7,945.0 125.0,936.6 135.4,936.6 140.0,934.5 147.9,950.2 156.2,954.3 164.0,958.1 172.1,951.8 180.0,950.8 187.9,951.6 196.0,952.2 208.3,952.2 214.6,950.6 227.9,950.6 236.0,955.0 244.0,950.8 252.1,950.2 260.0,948.5 267.9,951.2 276.0,949.1 284.0,949.1 292.1,951.2 300.0,955.0 307.9,954.3 316.0,950.8"/>
<polyline stroke="#ff0000" points="316.0,950.8 324.0,961.6 332.1,961.6 340.0,967.9 347.9,967.5 364.6,966.8 372.1,965.2 380.0,962.5 387.9,960.6 396.0,957.5 404.0,952.7 412.1,955.4 420.0,961.6 427.9,964.8 436.0,963.7 444.0,942.9"/>
<polyline stroke="#008000" points="444.0,942.2 452.1,938.7 460.0,953.3 467.9,953.3 476.0,948.7 484.0,945.6 492.1,947.7 502.9,947.7 507.9,950.6 516.0,952.2 524.0,954.8 540.0,954.8 547.9,953.7 556.0,953.7 564.0,949.8 570.0,952.2"/>
<polyline stroke="#ff0000" points="570.0,952.2 572.1,954.3 580.0,962.0 587.9,956.8 596.0,953.9 604.0,953.7 609.2,956.0 620.0,956.0 627.9,962.2 636.0,956.8 644.0,951.8 652.1,951.2 660.0,951.2 667.9,962.0 676.0,939.3 684.0,945.0 692.1,939.8"/>
<polyline stroke="#008000" points="692.1,939.8 700.0,935.6 707.9,938.7 716.0,938.7 724.0,937.7 732.1,937.2 740.0,936.2 747.9,933.5 756.0,933.1 764.0,926.8 772.1,939.8 780.0,937.0 787.9,936.6 796.0,935.6 804.0,931.4 812.1,924.8 820.0,937.7 827.9,936.6 836.0,931.8 844.0,928.3 852.1,927.9 860.0,927.9 867.9,928.9 876.0,927.9 884.0,929.8 892.1,928.3 900.0,927.9 907.9,927.9 916.0,926.8 924.0,927.2 932.1,928.9 940.0,931.4 947.9,934.1 956.0,936.0 964.0,935.6 972.1,931.4 980.0,930.4 987.9,929.8 996.0,921.0 1004.0,921.4 1012.1,932.5 1020.0,935.6 1027.9,938.7 1036.0,940.8 1044.0,941.2 1052.1,945.4 1060.0,942.9 1067.9,949.1 1076.0,949.1 1084.0,948.5 1092.1,947.5 1100.0,947.0 1107.9,947.0 1116.0,948.1"/>
</g>
<g shape-rendering="crispEdges" stroke-width="1" stroke-dasharray="3 3" stroke-dashoffset="1">
<line x1="5" y1="929.5" x2="1832" y2="929.5" stroke="#00008b"/>
<line x1="5" y1="949.5" x2="1832" y2="949.5" stroke="#0000ff"/>
<line x1="5" y1="969.5" x2="1832" y2="969.5" stroke="#00008b"/>
</g>
<g shape-rendering="crispEdges" fill="#000">
<rect x="0" y="0" width="1" height="1025" fill="#a0a0a0"/>
<rect x="1" y="0" width="1" height="1025" fill="#696969"/>
<rect x="1918" y="0" width="1" height="1025" fill="#e3e3e3"/>
<rect x="4" y="0" width="1" height="1005"/>
<rect x="4" y="0" width="1829" height="1"/>
<rect x="1832" y="0" width="1" height="711"/>
<rect x="1832" y="712" width="1" height="185"/>
<rect x="1832" y="898" width="1" height="103"/>
<rect x="4" y="710" width="1829" height="1"/>
<rect x="4" y="712" width="1829" height="1"/>
<rect x="4" y="896" width="1829" height="1"/>
<rect x="4" y="898" width="1829" height="1"/>
<rect x="4" y="1000" width="1829" height="1"/>
<rect x="1833" y="6" width="4" height="1"/>
<rect x="1833" y="70" width="4" height="1"/>
<rect x="1833" y="134" width="4" height="1"/>
<rect x="1833" y="198" width="4" height="1"/>
<rect x="1833" y="262" width="4" height="1"/>
<rect x="1833" y="326" width="4" height="1"/>
<rect x="1833" y="390" width="4" height="1"/>
<rect x="1833" y="454" width="4" height="1"/>
<rect x="1833" y="518" width="4" height="1"/>
<rect x="1833" y="582" width="4" height="1"/>
<rect x="1833" y="646" width="4" height="1"/>
<rect x="1833" y="713" width="4" height="1"/>
<rect x="1833" y="841" width="4" height="1"/>
<rect x="1833" y="895" width="4" height="1"/>
<rect x="1833" y="899" width="4" height="1"/>
<rect x="1833" y="929" width="4" height="1"/>
<rect x="1833" y="949" width="4" height="1"/>
<rect x="1833" y="969" width="4" height="1"/>
<rect x="1833" y="999" width="4" height="1"/>
<rect x="132" y="1001" width="1" height="4"/>
<rect x="260" y="1001" width="1" height="4"/>
<rect x="388" y="1001" width="1" height="4"/>
<rect x="516" y="1001" width="1" height="4"/>
<rect x="644" y="1001" width="1" height="4"/>
<rect x="772" y="1001" width="1" height="4"/>
<rect x="900" y="1001" width="1" height="4"/>
<rect x="1028" y="1001" width="1" height="4"/>
<rect x="1113" y="1" width="16" height="1"/>
<rect x="1114" y="2" width="14" height="1"/>
<rect x="1115" y="3" width="12" height="1"/>
<rect x="1116" y="4" width="10" height="1"/>
<rect x="1117" y="5" width="8" height="1"/>
<rect x="1118" y="6" width="6" height="1"/>
<rect x="1119" y="7" width="4" height="1"/>
<rect x="1120" y="8" width="2" height="1"/>
</g>
<g fill="#000" font-size="14.4">
<text x="1838.5" y="12">39292.90</text>
<text x="1838.5" y="76">39205.15</text>
<text x="1838.5" y="140">39117.40</text>
<text x="1838.5" y="204">39029.65</text>
<text x="1838.5" y="268">38941.90</text>
<text x="1838.5" y="332">38854.15</text>
<text x="1838.5" y="396">38766.40</text>
<text x="1838.5" y="460">38678.65</text>
<text x="1838.5" y="524">38590.90</text>
<text x="1838.5" y="588">38503.15</text>
<text x="1838.5" y="652">38415.40</text>
<text x="1838.5" y="726">276.501</text>
<text x="1838.5" y="847">0.000</text>
<text x="1838.5" y="893">-118.097</text>
<text x="1838.5" y="912">100.00</text>
<text x="1838.5" y="935">70.00</text>
<text x="1838.5" y="955">50.00</text>
<text x="1838.5" y="975">30.00</text>
<text x="1838.5" y="997">0.00</text>
<text x="4.3" y="1018" textLength="76.5" lengthAdjust="spacingAndGlyphs">16 Feb 2024</text>
<text x="132.3" y="1018" textLength="82" lengthAdjust="spacingAndGlyphs">16 Feb 19:00</text>
<text x="260.3" y="1018" textLength="82" lengthAdjust="spacingAndGlyphs">19 Feb 12:00</text>
<text x="388.3" y="1018" textLength="82" lengthAdjust="spacingAndGlyphs">20 Feb 09:00</text>
<text x="516.3" y="1018" textLength="82" lengthAdjust="spacingAndGlyphs">21 Feb 02:00</text>
<text x="644.3" y="1018" textLength="82" lengthAdjust="spacingAndGlyphs">21 Feb 18:00</text>
<text x="772.3" y="1018" textLength="82" lengthAdjust="spacingAndGlyphs">22 Feb 11:00</text>
<text x="900.3" y="1018" textLength="82" lengthAdjust="spacingAndGlyphs">23 Feb 04:00</text>
<text x="1028.3" y="1018" textLength="82" lengthAdjust="spacingAndGlyphs">23 Feb 20:00</text>
<text x="7" y="729.5" textLength="184" lengthAdjust="spacingAndGlyphs">MACD(5,34,5) 33.458 40.943</text>
<text x="7" y="915.5" textLength="88" lengthAdjust="spacingAndGlyphs">RSI(14) 50.98</text>
<text x="72.5" y="22" textLength="160" lengthAdjust="spacingAndGlyphs" xml:space="preserve">US30.dr, H1:  US 30 Cash</text>
<text x="240.5" y="22" textLength="251" lengthAdjust="spacingAndGlyphs">39089.08 39099.09 39079.43 39086.46</text>
</g>
<g shape-rendering="crispEdges">
<rect x="1835" y="146" width="68" height="3" fill="#ef5350"/>
<rect x="1835" y="149" width="68" height="17" fill="#26a69a"/>
</g>
<text x="1838.5" y="163" fill="#fff" font-size="14.4">39086.46</text>
<text x="1123" y="182" fill="#000" font-size="25.8" font-weight="bold" textLength="248" lengthAdjust="spacingAndGlyphs">00:15:27|US30.dr|H1</text>
<g fill="none" stroke-width="1.4">
<rect x="15" y="11.6" width="8.3" height="10.2" fill="#ffddd0" stroke="none"/>
<rect x="24" y="11.6" width="8.3" height="10.2" fill="#c3e6ff" stroke="none"/>
<path d="M23.7 9.3H14.8a1.5 1.5 0 0 0-1.5 1.5v11.9a1.5 1.5 0 0 0 1.5 1.5H23.7" stroke="#d9352c"/>
<path d="M23.7 9.3H32.7a1.5 1.5 0 0 1 1.5 1.5v11.9a1.5 1.5 0 0 1-1.5 1.5H23.7" stroke="#005ea8"/>
<path d="M15.6 12.3h7.2M15.6 16.7h7.2M15.6 21.2h7.2" stroke="#d9352c" stroke-width="1.4" stroke-linecap="round"/>
<path d="M24.6 12.3h7.2M24.6 16.7h7.2M24.6 21.2h7.2" stroke="#005ea8" stroke-width="1.4" stroke-linecap="round"/>
<path d="M45.3 10.4a1.2 1.2 0 0 1 1.2-1.2h2.6a1.2 1.2 0 0 1 1.2 1.2v4a1 1 0 0 0 1 1h2.2a1.2 1.2 0 0 1 1.2 1.2v6.7a1.2 1.2 0 0 1-1.2 1.2h-7a1.2 1.2 0 0 1-1.2-1.2z" fill="#ffddd0" stroke="#d9352c"/>
<path d="M66.2 10.4a1.2 1.2 0 0 0-1.2-1.2h-2.6a1.2 1.2 0 0 0-1.2 1.2v4a1 1 0 0 1-1 1h-2.2a1.2 1.2 0 0 0-1.2 1.2v6.7a1.2 1.2 0 0 0 1.2 1.2h7a1.2 1.2 0 0 0 1.2-1.2z" fill="#c3e6ff" stroke="#005ea8"/>
<rect x="52.8" y="9.3" width="6.2" height="2.9" rx="1.3" fill="#fff" stroke="#a3a3a3"/>
</g>
</svg></body></html>
